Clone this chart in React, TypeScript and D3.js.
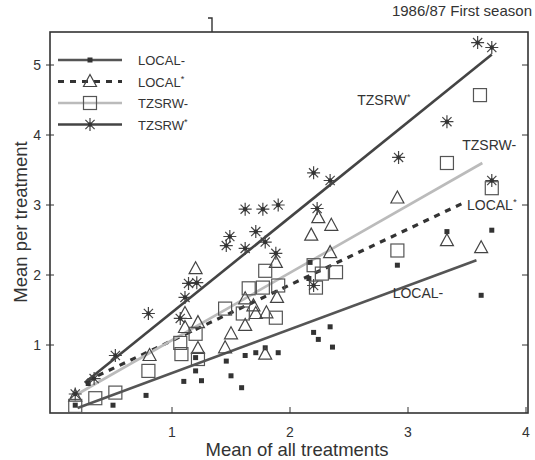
import React from "react";
import * as d3 from "d3";

// points: [mean of all treatments, mean per treatment]
const localMinus: [number, number][] = [
  [0.18, 0.14], [0.29, 0.45], [0.5, 0.14], [0.78, 0.28], [1.1, 0.48], [1.2, 0.82],
  [1.2, 0.63], [1.25, 0.49], [1.46, 0.77], [1.5, 0.56], [1.59, 0.39], [1.62, 0.85],
  [1.71, 0.89], [1.79, 0.96], [1.9, 0.89], [2.16, 1.95], [2.17, 2.18], [2.2, 1.18],
  [2.24, 1.08], [2.34, 1.26], [2.36, 0.97], [2.91, 2.14], [3.33, 2.62], [3.71, 2.64],
  [3.62, 1.71],
];
const localPlus: [number, number][] = [
  [0.18, 0.27], [0.81, 0.85], [1.11, 1.45], [1.22, 1.32], [1.11, 1.25], [1.22, 0.95],
  [1.2, 2.09], [1.5, 1.16], [1.45, 0.96], [1.62, 1.28], [1.71, 1.45], [1.62, 1.66],
  [1.8, 1.46], [1.89, 1.68], [1.69, 1.56], [1.79, 0.87], [1.88, 2.18], [2.18, 2.57],
  [2.24, 2.82], [2.35, 2.71], [2.34, 2.32], [2.91, 3.1], [3.33, 2.49], [3.62, 2.39],
];
const tzsrwMinus: [number, number][] = [
  [0.18, 0.13], [0.35, 0.24], [0.52, 0.32], [0.8, 0.63], [1.07, 1.03], [1.08, 0.87],
  [1.2, 1.16], [1.22, 0.8], [1.45, 1.52], [1.6, 1.45], [1.65, 1.81], [1.77, 1.82],
  [1.79, 2.06], [1.9, 1.85], [1.88, 1.39], [2.2, 2.14], [2.27, 2.02], [2.39, 2.04],
  [2.22, 1.82], [2.91, 2.35], [3.33, 3.6], [3.61, 4.57], [3.71, 3.24],
];
const tzsrwPlus: [number, number][] = [
  [0.18, 0.3], [0.34, 0.52], [0.52, 0.85], [0.8, 1.45], [1.07, 1.38], [1.11, 1.68],
  [1.14, 1.88], [1.21, 1.89], [1.46, 2.42], [1.49, 2.55], [1.62, 2.38], [1.62, 2.94],
  [1.71, 2.62], [1.77, 2.94], [1.79, 2.47], [1.88, 2.31], [1.9, 3.0], [2.23, 2.95],
  [2.2, 3.46], [2.34, 3.35], [2.2, 1.85], [2.92, 3.68], [3.33, 4.19], [3.59, 5.32],
  [3.71, 5.25], [3.71, 3.35],
];

// fitted lines, start and end as drawn
const fitLocalMinus: [number, number][] = [[0.2, 0.1], [3.58, 2.21]];
const fitLocalPlus: [number, number][] = [[0.28, 0.49], [3.47, 3.03]];
const fitTzsrwMinus: [number, number][] = [[0.2, 0.3], [3.63, 3.6]];
const fitTzsrwPlus: [number, number][] = [[0.26, 0.46], [3.71, 5.15]];

const seriesNames = ["LOCAL-", "LOCAL*", "TZSRW-", "TZSRW*"];
const xTicks = [1, 2, 3, 4];
const yTicks = [1, 2, 3, 4, 5];

const FONT = "'Liberation Sans', Arial, sans-serif";
const INK = "#333";

function starPath(r: number) {
  let p = "";
  for (let i = 0; i < 4; i++) {
    const a = (i * Math.PI) / 4;
    const dx = r * Math.cos(a), dy = r * Math.sin(a);
    p += `M${-dx},${-dy}L${dx},${dy}`;
  }
  return p;
}

function Marker({ kind, cx, cy }: { kind: number; cx: number; cy: number }) {
  const t = `translate(${cx},${cy})`;
  if (kind === 0) return <rect x={cx - 2.5} y={cy - 2.5} width={5} height={5} fill="#333" />;
  if (kind === 1)
    return <path transform={t} d="M0,-7L6.5,5L-6.5,5Z" fill="none" stroke="#444" strokeWidth={1.2} />;
  if (kind === 2)
    return <rect x={cx - 6.5} y={cy - 6.5} width={13} height={13} fill="none" stroke="#555" strokeWidth={1.2} />;
  return (
    <g transform={t}>
      <path d={starPath(6.5)} stroke="#444" strokeWidth={1.2} />
      <circle r={2.2} fill="#333" />
    </g>
  );
}

function Label({ x, y, name, size }: { x: number; y: number; name: string; size: number }) {
  const star = name.endsWith("*");
  return (
    <text x={x} y={y} fontFamily={FONT} fontSize={size} fill={INK}>
      {star ? name.slice(0, -1) : name}
      {star && (
        <tspan fontSize={size * 0.7} dy={-size * 0.35}>*</tspan>
      )}
    </text>
  );
}

export default function App() {
  const box = { left: 50, top: 32, right: 528, bottom: 413 };
  const x = d3.scaleLinear().domain([0, 4]).range([54, 526]);
  const y = d3.scaleLinear().domain([0, 5]).range([415, 65]);
  const line = d3.line<[number, number]>().x(d => x(d[0])).y(d => y(d[1]));

  const points = [localMinus, localPlus, tzsrwMinus, tzsrwPlus];
  const fits = [fitLocalMinus, fitLocalPlus, fitTzsrwMinus, fitTzsrwPlus];
  const fitStyle = [
    { stroke: "#555", width: 2.6, dash: undefined },
    { stroke: "#333", width: 3.2, dash: "6,6" },
    { stroke: "#bbb", width: 2.6, dash: undefined },
    { stroke: "#444", width: 2.6, dash: undefined },
  ];

  return (
    <div style={{ position: "fixed", left: 0, top: 0 }}>
      <svg width={535} height={460} style={{ display: "block", background: "#fff" }}>
        {/* frame */}
        <rect x={box.left} y={box.top} width={box.right - box.left} height={box.bottom - box.top}
          fill="none" stroke="#333" strokeWidth={1.6} />
        <path d={`M212,${box.top}V18h-4`} fill="none" stroke="#333" strokeWidth={1.4} />

        {xTicks.map(t => (
          <g key={"x" + t}>
            <line x1={x(t)} x2={x(t)} y1={box.bottom} y2={box.bottom - 6} stroke="#333" strokeWidth={1} />
            <text x={x(t)} y={437} textAnchor="middle" fontFamily={FONT} fontSize={14} fill={INK}>{t}</text>
          </g>
        ))}
        {yTicks.map(t => (
          <g key={"y" + t}>
            <line x1={box.left - 4} x2={box.left + 4} y1={y(t)} y2={y(t)} stroke="#333" strokeWidth={1} />
            <line x1={box.right - 6} x2={box.right} y1={y(t)} y2={y(t)} stroke="#333" strokeWidth={1} />
            <text x={41} y={y(t) + 5} textAnchor="end" fontFamily={FONT} fontSize={14} fill={INK}>{t}</text>
          </g>
        ))}

        <text x={297} y={456} textAnchor="middle" fontFamily={FONT} fontSize={18.5} fill={INK}>
          Mean of all treatments
        </text>
        <text transform="translate(27,222) rotate(-90)" textAnchor="middle" fontFamily={FONT} fontSize={18.5} fill={INK}>
          Mean per treatment
        </text>
        <text x={532} y={16} textAnchor="end" fontFamily={FONT} fontSize={15} fill={INK}>
          1986/87 First season
        </text>

        {/* fitted lines */}
        {fits.map((f, i) => (
          <path key={"f" + i} d={line(f) || ""} fill="none" stroke={fitStyle[i].stroke}
            strokeWidth={fitStyle[i].width} strokeDasharray={fitStyle[i].dash} />
        ))}

        {/* points */}
        {points.map((s, i) => (
          <g key={"s" + i}>
            {s.map((d, j) => <Marker key={j} kind={i} cx={x(d[0])} cy={y(d[1])} />)}
          </g>
        ))}

        {/* in-plot labels */}
        <Label x={x(2.57)} y={y(4.5) + 5} name="TZSRW*" size={14} />
        <Label x={x(3.46)} y={y(3.86) + 5} name="TZSRW-" size={14} />
        <Label x={x(3.5)} y={y(3.0) + 5} name="LOCAL*" size={14} />
        <Label x={x(2.87)} y={y(1.74) + 5} name="LOCAL-" size={14} />

        {/* legend */}
        {seriesNames.map((n, i) => {
          const ly = 60 + i * 21.5;
          return (
            <g key={"l" + n}>
              <line x1={58} x2={122} y1={ly} y2={ly} stroke={fitStyle[i].stroke}
                strokeWidth={fitStyle[i].width} strokeDasharray={fitStyle[i].dash} />
              <Marker kind={i} cx={90} cy={ly} />
              <Label x={138} y={ly + 5} name={n} size={13} />
            </g>
          );
        })}
      </svg>
    </div>
  );
}
